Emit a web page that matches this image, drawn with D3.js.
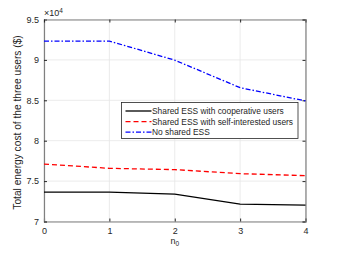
<!DOCTYPE html>
<html>
<head>
<meta charset="utf-8">
<script src="https://cdn.jsdelivr.net/npm/d3@7"></script>
<style>
  body { margin: 0; background: #fff; }
  text { font-family: "Liberation Sans", Arial, sans-serif; }
</style>
</head>
<body>
<svg id="chart" width="338" height="254"></svg>
<script>
// values
const nValues = [0, 1, 2, 3, 4];
const cooperative = [73640, 73640, 73400, 72150, 72020];
const selfInterested = [77110, 76580, 76420, 75920, 75670];
const noShared = [92330, 92330, 89970, 86560, 84920];
const yTicks = [70000, 75000, 80000, 85000, 90000, 95000];
const seriesNames = ["Shared ESS with cooperative users", "Shared ESS with self-interested users", "No shared ESS"];

var svg = d3.select("#chart"),
    margin = {left: 44, top: 19.5, right: 32.5, bottom: 32.5},
    width = 338 - margin.left - margin.right,
    height = 254 - margin.top - margin.bottom;

var x = d3.scaleLinear().domain([0, 4]).range([0, width]);
var y = d3.scaleLinear().domain([70000, 95000]).range([height, 0]);

var g = svg.append("g").attr("transform", "translate(" + margin.left + "," + margin.top + ")");

// grid
g.append("g").selectAll("line").data(nValues).enter().append("line")
    .attr("x1", d => x(d)).attr("x2", d => x(d)).attr("y1", 0).attr("y2", height)
    .attr("stroke", "#e6e6e6").attr("stroke-width", 0.8);
g.append("g").selectAll("line").data(yTicks).enter().append("line")
    .attr("y1", d => y(d)).attr("y2", d => y(d)).attr("x1", 0).attr("x2", width)
    .attr("stroke", "#e6e6e6").attr("stroke-width", 0.8);

// axes
var xAxis = d3.axisBottom(x).tickValues(nValues).tickSize(-3).tickPadding(6).tickFormat(d3.format("d"));
var yAxis = d3.axisLeft(y).tickValues(yTicks).tickSize(-3).tickPadding(5).tickFormat(d => d3.format("")(d / 10000));
var xTop = d3.axisTop(x).tickValues(nValues).tickSize(-3).tickFormat("");
var yRight = d3.axisRight(y).tickValues(yTicks).tickSize(-3).tickFormat("");

function styleAxis(sel) {
  sel.select(".domain").attr("stroke", "#808080").attr("stroke-width", 1.2);
  sel.selectAll(".tick line").attr("stroke", "#262626");
  sel.selectAll("text").attr("fill", "#262626").style("font-size", "9px");
}
g.append("g").attr("transform", "translate(0," + height + ")").call(xAxis).call(styleAxis);
g.append("g").call(yAxis).call(styleAxis);
g.append("g").call(xTop).call(styleAxis);
g.append("g").attr("transform", "translate(" + width + ",0)").call(yRight).call(styleAxis);

// exponent label
var ex = g.append("text").attr("x", 0).attr("y", -4).attr("fill", "#262626").style("font-size", "9px");
ex.append("tspan").text("\u00d710");
ex.append("tspan").attr("dy", -3).style("font-size", "6.5px").text("4");

// lines
var line = d3.line().x((d, i) => x(nValues[i])).y(d => y(d));
var series = [
  {values: cooperative, color: "#000000", dash: null},
  {values: selfInterested, color: "#ff0000", dash: "5,3"},
  {values: noShared, color: "#0000ff", dash: "5,2,1.5,2"}
];
g.selectAll(".series").data(series).enter().append("path")
    .attr("class", "series")
    .attr("d", d => line(d.values))
    .attr("fill", "none")
    .attr("stroke", d => d.color)
    .attr("stroke-width", 1.3)
    .attr("stroke-dasharray", d => d.dash);

// axis titles
svg.append("text").attr("x", margin.left + width / 2).attr("y", 244)
    .attr("text-anchor", "middle").attr("fill", "#262626").style("font-size", "9px")
    .html('n<tspan dy="2" style="font-size:6.5px">0</tspan>');
svg.append("text")
    .attr("transform", "translate(21," + (margin.top + height / 2 + 2) + ") rotate(-90)")
    .attr("text-anchor", "middle").attr("fill", "#262626").style("font-size", "10.2px")
    .text("Total energy cost of the three users ($)");

// legend
var leg = svg.append("g").attr("transform", "translate(121.5,102.5)");
leg.append("rect").attr("width", 176.5).attr("height", 36).attr("fill", "#fff")
    .attr("stroke", "#262626").attr("stroke-width", 0.8);
series.forEach(function(s, i) {
  var yy = 8.5 + i * 10.6;
  leg.append("line").attr("x1", 4).attr("x2", 30).attr("y1", yy).attr("y2", yy)
      .attr("stroke", s.color).attr("stroke-width", 1.3).attr("stroke-dasharray", s.dash);
  leg.append("text").attr("x", 30.5).attr("y", yy + 3).attr("fill", "#262626")
      .style("font-size", "8.4px").text(seriesNames[i]);
});
</script>
</body>
</html>
